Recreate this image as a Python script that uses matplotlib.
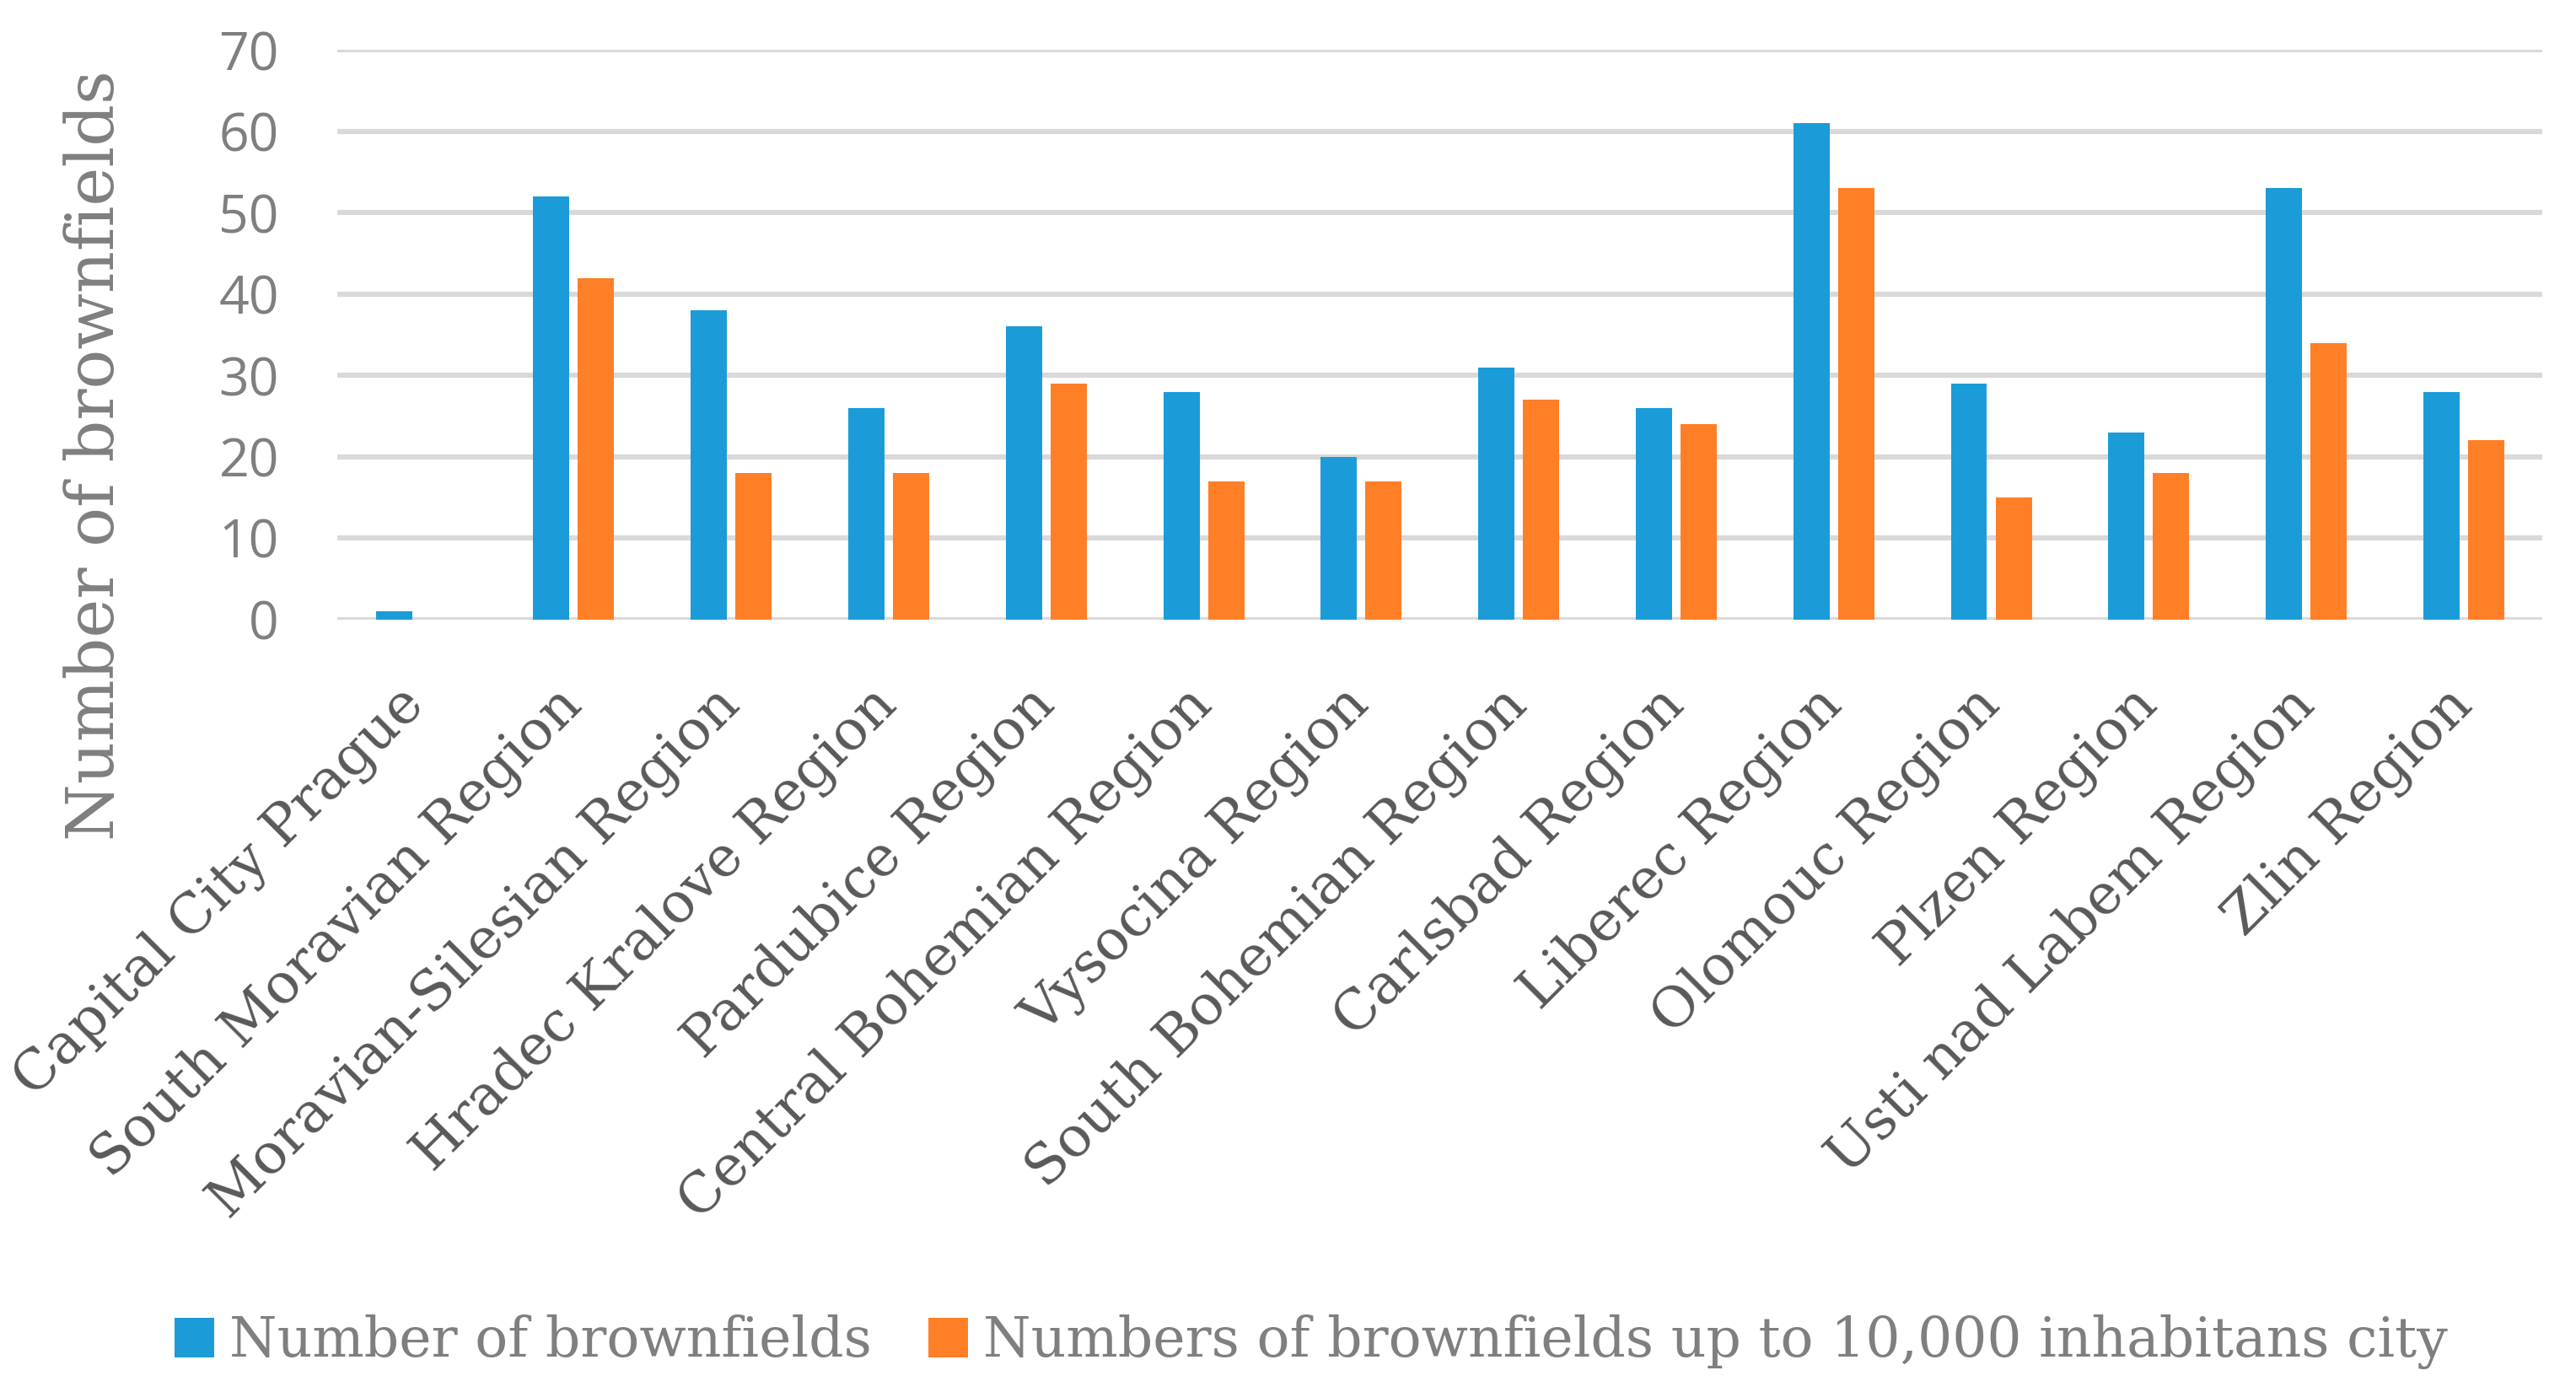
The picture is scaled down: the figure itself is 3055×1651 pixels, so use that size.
import matplotlib.pyplot as plt
import numpy as np

regions = ['Capital City Prague', 'South Moravian Region', 'Moravian-Silesian Region',
           'Hradec Kralove Region', 'Pardubice Region', 'Central Bohemian Region',
           'Vysocina Region', 'South Bohemian Region', 'Carlsbad Region',
           'Liberec Region', 'Olomouc Region', 'Plzen Region',
           'Usti nad Labem Region', 'Zlin Region']
brownfields = [1, 52, 38, 26, 36, 28, 20, 31, 26, 61, 29, 23, 53, 28]
brownfields_small = [0, 42, 18, 18, 29, 17, 17, 27, 24, 53, 15, 18, 34, 22]
y_ticks = [0, 10, 20, 30, 40, 50, 60, 70]

blue = '#1b9cd8'
orange = '#ff7f27'
grey = '#7f7f7f'

fig = plt.figure(figsize=(15.275, 8.255), dpi=200)
ax = fig.add_axes([0.131, 0.555, 0.856, 0.409])

x = np.arange(len(regions))
w = 0.23
ax.bar(x - 0.142, brownfields, w, color=blue, label='Number of brownfields', zorder=3)
ax.bar(x + 0.142, brownfields_small, w, color=orange,
       label='Numbers of brownfields up to 10,000 inhabitans city', zorder=3)

ax.set_xlim(-0.5, len(regions) - 0.5)
ax.set_ylim(0, 70)
ax.set_yticks(y_ticks)
ax.yaxis.grid(True, color='#d9d9d9', linewidth=2.2, zorder=0)
ax.set_axisbelow(True)
for s in ax.spines.values():
    s.set_visible(False)

ax.tick_params(axis='y', length=0, pad=25, labelsize=22.5, labelcolor=grey)
for lab in ax.get_yticklabels():
    lab.set_fontfamily('Open Sans')

ax.set_xticks(x)
ax.set_xticklabels(regions, rotation=45, ha='right', va='center',
                   rotation_mode='anchor', fontfamily='DejaVu Serif',
                   fontsize=23.8, color='#595959')
ax.tick_params(axis='x', length=0, pad=33)

fig.text(0.037, 0.673, 'Number of brownfields', rotation=90, ha='center', va='center',
         fontfamily='DejaVu Serif', fontsize=28, color=grey)

fig.legend(loc='center', bbox_to_anchor=(0.509, 0.036), ncol=2, frameon=False,
           prop={'family': 'DejaVu Serif', 'size': 23.3}, labelcolor=grey,
           handlelength=0.72, handleheight=0.72, handletextpad=0.28, columnspacing=1.05)

fig.savefig('out.png', dpi=200)
